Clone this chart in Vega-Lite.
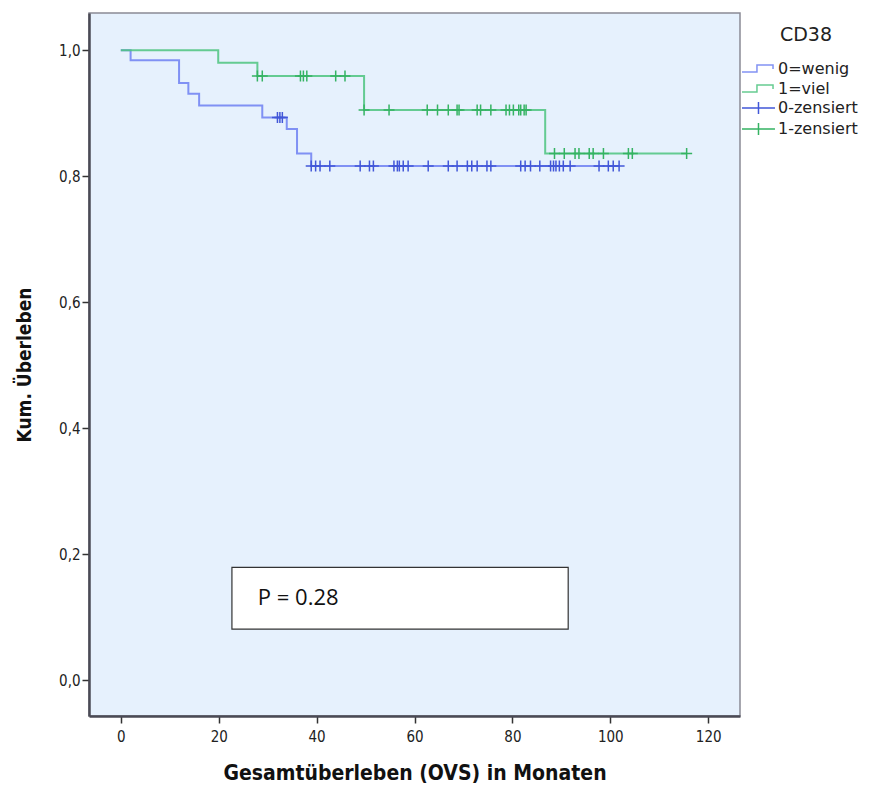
{
  "$schema": "https://vega.github.io/schema/vega-lite/v6.json",
  "width": 651,
  "height": 703,
  "autosize": {"type": "none"},
  "padding": {"left": 89, "top": 13, "right": 129, "bottom": 71},
  "background": "white",
  "title": {"text": "CD38", "anchor": "end", "frame": "group", "orient": "top", "dx": 92, "dy": 47, "offset": 0, "baseline": "alphabetic", "font": "DejaVu Sans, sans-serif", "fontSize": 19, "fontWeight": "normal", "color": "#222"},
  "config": {
    "view": {"fill": "#e6f1fd", "stroke": "#8a8a95", "strokeWidth": 1.5},
    "axis": {
      "domainColor": "#4a4a55", "domainWidth": 2.5,
      "tickColor": "#333", "tickWidth": 1.5, "tickSize": 7,
      "labelFont": "Liberation Sans Narrow, DejaVu Sans Condensed, sans-serif",
      "labelFontSize": 15, "labelColor": "#222",
      "titleFont": "Liberation Sans Narrow, DejaVu Sans Condensed, sans-serif",
      "titleFontWeight": "bold", "titleColor": "#111", "grid": false
    },
    "legend": {
      "orient": "none",
      "labelFont": "DejaVu Sans, sans-serif",
      "labelFontSize": 16,
      "labelColor": "#222",
      "labelOffset": 18,
      "rowPadding": 2,
      "symbolSize": 289,
      "symbolStrokeWidth": 1.5,
      "symbolOffset": 0
    }
  },
  "datasets": {
    "steps": [
      {"series": "0=wenig", "t": 0, "s": 1.0},
      {"series": "0=wenig", "t": 2.0, "s": 0.984},
      {"series": "0=wenig", "t": 11.9, "s": 0.948},
      {"series": "0=wenig", "t": 13.8, "s": 0.931},
      {"series": "0=wenig", "t": 16.0, "s": 0.912},
      {"series": "0=wenig", "t": 28.9, "s": 0.893},
      {"series": "0=wenig", "t": 33.9, "s": 0.875},
      {"series": "0=wenig", "t": 36.0, "s": 0.836},
      {"series": "0=wenig", "t": 38.9, "s": 0.816},
      {"series": "0=wenig", "t": 101.8, "s": 0.816},
      {"series": "1=viel", "t": 0, "s": 1.0},
      {"series": "1=viel", "t": 19.9, "s": 0.980},
      {"series": "1=viel", "t": 27.9, "s": 0.959},
      {"series": "1=viel", "t": 49.7, "s": 0.905},
      {"series": "1=viel", "t": 86.7, "s": 0.836},
      {"series": "1=viel", "t": 115.6, "s": 0.836}
    ],
    "censored": [
      {"series": "0-zensiert", "t": 32.0, "s": 0.893},
      {"series": "0-zensiert", "t": 32.5, "s": 0.893},
      {"series": "0-zensiert", "t": 33.0, "s": 0.893},
      {"series": "0-zensiert", "t": 38.9, "s": 0.816},
      {"series": "0-zensiert", "t": 39.8, "s": 0.816},
      {"series": "0-zensiert", "t": 40.7, "s": 0.816},
      {"series": "0-zensiert", "t": 42.7, "s": 0.816},
      {"series": "0-zensiert", "t": 48.9, "s": 0.816},
      {"series": "0-zensiert", "t": 50.8, "s": 0.816},
      {"series": "0-zensiert", "t": 51.6, "s": 0.816},
      {"series": "0-zensiert", "t": 55.8, "s": 0.816},
      {"series": "0-zensiert", "t": 56.5, "s": 0.816},
      {"series": "0-zensiert", "t": 56.9, "s": 0.816},
      {"series": "0-zensiert", "t": 57.7, "s": 0.816},
      {"series": "0-zensiert", "t": 58.7, "s": 0.816},
      {"series": "0-zensiert", "t": 62.8, "s": 0.816},
      {"series": "0-zensiert", "t": 66.9, "s": 0.816},
      {"series": "0-zensiert", "t": 68.7, "s": 0.816},
      {"series": "0-zensiert", "t": 70.8, "s": 0.816},
      {"series": "0-zensiert", "t": 71.7, "s": 0.816},
      {"series": "0-zensiert", "t": 72.8, "s": 0.816},
      {"series": "0-zensiert", "t": 74.8, "s": 0.816},
      {"series": "0-zensiert", "t": 75.6, "s": 0.816},
      {"series": "0-zensiert", "t": 81.7, "s": 0.816},
      {"series": "0-zensiert", "t": 82.6, "s": 0.816},
      {"series": "0-zensiert", "t": 83.7, "s": 0.816},
      {"series": "0-zensiert", "t": 85.6, "s": 0.816},
      {"series": "0-zensiert", "t": 87.8, "s": 0.816},
      {"series": "0-zensiert", "t": 88.4, "s": 0.816},
      {"series": "0-zensiert", "t": 88.9, "s": 0.816},
      {"series": "0-zensiert", "t": 89.6, "s": 0.816},
      {"series": "0-zensiert", "t": 90.4, "s": 0.816},
      {"series": "0-zensiert", "t": 91.8, "s": 0.816},
      {"series": "0-zensiert", "t": 97.7, "s": 0.816},
      {"series": "0-zensiert", "t": 99.6, "s": 0.816},
      {"series": "0-zensiert", "t": 100.6, "s": 0.816},
      {"series": "0-zensiert", "t": 101.8, "s": 0.816},
      {"series": "1-zensiert", "t": 27.9, "s": 0.959},
      {"series": "1-zensiert", "t": 28.9, "s": 0.959},
      {"series": "1-zensiert", "t": 36.7, "s": 0.959},
      {"series": "1-zensiert", "t": 37.3, "s": 0.959},
      {"series": "1-zensiert", "t": 38.0, "s": 0.959},
      {"series": "1-zensiert", "t": 43.9, "s": 0.959},
      {"series": "1-zensiert", "t": 45.8, "s": 0.959},
      {"series": "1-zensiert", "t": 49.7, "s": 0.905},
      {"series": "1-zensiert", "t": 54.8, "s": 0.905},
      {"series": "1-zensiert", "t": 62.6, "s": 0.905},
      {"series": "1-zensiert", "t": 64.7, "s": 0.905},
      {"series": "1-zensiert", "t": 66.9, "s": 0.905},
      {"series": "1-zensiert", "t": 68.7, "s": 0.905},
      {"series": "1-zensiert", "t": 69.1, "s": 0.905},
      {"series": "1-zensiert", "t": 72.8, "s": 0.905},
      {"series": "1-zensiert", "t": 73.5, "s": 0.905},
      {"series": "1-zensiert", "t": 75.6, "s": 0.905},
      {"series": "1-zensiert", "t": 78.7, "s": 0.905},
      {"series": "1-zensiert", "t": 79.4, "s": 0.905},
      {"series": "1-zensiert", "t": 80.2, "s": 0.905},
      {"series": "1-zensiert", "t": 81.3, "s": 0.905},
      {"series": "1-zensiert", "t": 81.7, "s": 0.905},
      {"series": "1-zensiert", "t": 82.4, "s": 0.905},
      {"series": "1-zensiert", "t": 82.8, "s": 0.905},
      {"series": "1-zensiert", "t": 88.6, "s": 0.836},
      {"series": "1-zensiert", "t": 90.6, "s": 0.836},
      {"series": "1-zensiert", "t": 92.8, "s": 0.836},
      {"series": "1-zensiert", "t": 93.6, "s": 0.836},
      {"series": "1-zensiert", "t": 95.7, "s": 0.836},
      {"series": "1-zensiert", "t": 96.5, "s": 0.836},
      {"series": "1-zensiert", "t": 98.6, "s": 0.836},
      {"series": "1-zensiert", "t": 103.7, "s": 0.836},
      {"series": "1-zensiert", "t": 104.5, "s": 0.836},
      {"series": "1-zensiert", "t": 115.6, "s": 0.836}
    ],
    "note": [{"label": "P = 0.28"}]
  },
  "layer": [
    {
      "data": {"name": "steps"},
      "mark": {"type": "line", "interpolate": "step-after", "strokeWidth": 2, "opacity": 0.85},
      "encoding": {
        "x": {
          "field": "t", "type": "quantitative",
          "scale": {"domain": [-6.5, 126.5], "nice": false, "zero": false},
          "axis": {"values": [0, 20, 40, 60, 80, 100, 120], "title": "Gesamtüberleben (OVS) in Monaten", "titleFontSize": 21, "titlePadding": 18, "labelPadding": 6}
        },
        "y": {
          "field": "s", "type": "quantitative",
          "scale": {"domain": [-0.057, 1.059], "nice": false, "zero": false},
          "axis": {"values": [0, 0.2, 0.4, 0.6, 0.8, 1.0], "labelExpr": "replace(format(datum.value, '.1f'), '.', ',')", "title": "Kum. Überleben", "titleFontSize": 19, "titlePadding": 24, "labelPadding": 2}
        },
        "color": {
          "field": "series", "type": "nominal",
          "scale": {"domain": ["0=wenig", "1=viel"], "range": ["#6d80f2", "#4cc47f"]},
          "legend": {
            "title": null,
            "legendX": 652,
            "legendY": 46,
            "symbolType": "M-1,0.41H0.76V-0.41H2.65V0.05"
          }
        }
      }
    },
    {
      "data": {"name": "censored"},
      "mark": {"type": "point", "shape": "M-1,0H1M0,-1V1", "filled": false, "size": 121, "strokeWidth": 1.5, "opacity": 1},
      "encoding": {
        "x": {"field": "t", "type": "quantitative"},
        "y": {"field": "s", "type": "quantitative"},
        "stroke": {
          "field": "series", "type": "nominal",
          "scale": {"domain": ["0-zensiert", "1-zensiert"], "range": ["#4257d8", "#35b363"]},
          "legend": {
            "title": null,
            "legendX": 652,
            "legendY": 85.5,
            "symbolType": "M-1,0H2.88M0.94,-0.7V0.7"
          }
        }
      }
    },
    {
      "data": {"name": "note"},
      "mark": {"type": "rect", "fill": "white", "stroke": "#333", "strokeWidth": 1.2},
      "encoding": {
        "x": {"datum": 22.7},
        "x2": {"datum": 91.4},
        "y": {"datum": 0.179},
        "y2": {"datum": 0.081}
      }
    },
    {
      "data": {"name": "note"},
      "mark": {"type": "text", "align": "left", "baseline": "middle", "font": "Open Sans, sans-serif", "fontSize": 22, "color": "#111"},
      "encoding": {
        "x": {"datum": 28.0},
        "y": {"datum": 0.131},
        "text": {"field": "label"}
      }
    }
  ]
}
